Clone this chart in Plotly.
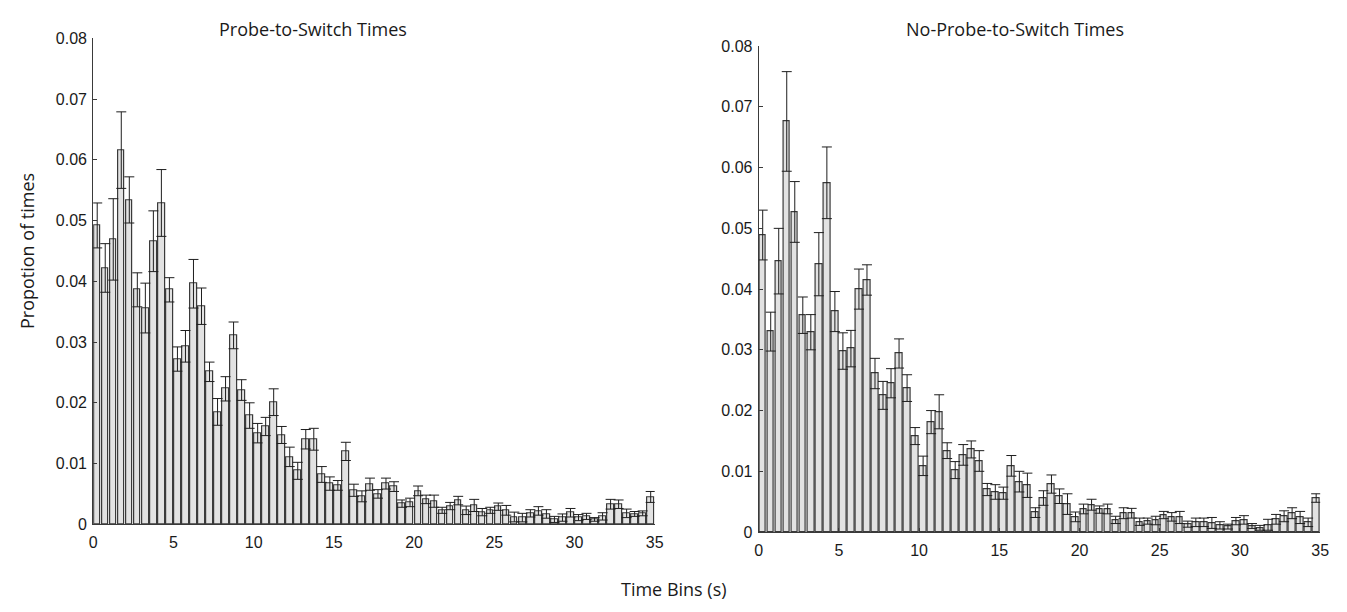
import plotly.graph_objects as go

# Bin centres (s), 0.5 s bins from 0 to 35
bin_centres = [0.25 + 0.5 * i for i in range(70)]

# Probe-to-Switch Times: proportion per bin and error
probe_vals = [
    0.0492, 0.0422, 0.0469, 0.0616, 0.0534, 0.0386, 0.0356, 0.0466, 0.0529, 0.0386,
    0.0272, 0.0293, 0.0396, 0.0359, 0.0251, 0.0185, 0.0223, 0.0311, 0.0221, 0.0179,
    0.0150, 0.0161, 0.0201, 0.0147, 0.0111, 0.0088, 0.0140, 0.0140, 0.0082, 0.0067,
    0.0064, 0.0120, 0.0056, 0.0046, 0.0066, 0.0050, 0.0067, 0.0062, 0.0034, 0.0036,
    0.0055, 0.0041, 0.0038, 0.0023, 0.0030, 0.0039, 0.0023, 0.0031, 0.0020, 0.0023,
    0.0029, 0.0023, 0.0012, 0.0011, 0.0018, 0.0022, 0.0017, 0.0008, 0.0011, 0.0019,
    0.0011, 0.0013, 0.0008, 0.0013, 0.0033, 0.0033, 0.0018, 0.0017, 0.0018, 0.0045,
]
probe_err = [
    0.0037, 0.0040, 0.0067, 0.0063, 0.0038, 0.0028, 0.0041, 0.0050, 0.0055, 0.0020,
    0.0020, 0.0026, 0.0040, 0.0030, 0.0016, 0.0022, 0.0020, 0.0022, 0.0017, 0.0021,
    0.0016, 0.0015, 0.0022, 0.0014, 0.0016, 0.0014, 0.0016, 0.0018, 0.0013, 0.0011,
    0.0008, 0.0015, 0.0010, 0.0009, 0.0010, 0.0007, 0.0009, 0.0008, 0.0006, 0.0007,
    0.0008, 0.0007, 0.0010, 0.0005, 0.0006, 0.0007, 0.0007, 0.0010, 0.0006, 0.0005,
    0.0006, 0.0008, 0.0008, 0.0007, 0.0006, 0.0007, 0.0007, 0.0005, 0.0006, 0.0007,
    0.0005, 0.0005, 0.0003, 0.0006, 0.0008, 0.0007, 0.0007, 0.0004, 0.0004, 0.0009,
]

# No-Probe-to-Switch Times
noprobe_vals = [
    0.0489, 0.0330, 0.0446, 0.0676, 0.0527, 0.0357, 0.0329, 0.0441, 0.0575, 0.0363,
    0.0298, 0.0302, 0.0400, 0.0415, 0.0261, 0.0225, 0.0245, 0.0294, 0.0237, 0.0158,
    0.0109, 0.0181, 0.0198, 0.0134, 0.0102, 0.0127, 0.0136, 0.0117, 0.0070, 0.0066,
    0.0064, 0.0109, 0.0083, 0.0077, 0.0032, 0.0056, 0.0079, 0.0059, 0.0046, 0.0025,
    0.0038, 0.0045, 0.0037, 0.0038, 0.0020, 0.0031, 0.0031, 0.0017, 0.0018, 0.0019,
    0.0028, 0.0025, 0.0024, 0.0013, 0.0016, 0.0016, 0.0015, 0.0011, 0.0009, 0.0018,
    0.0020, 0.0010, 0.0007, 0.0012, 0.0021, 0.0026, 0.0031, 0.0024, 0.0016, 0.0056,
]
noprobe_err = [
    0.0041, 0.0032, 0.0054, 0.0082, 0.0050, 0.0030, 0.0029, 0.0052, 0.0059, 0.0033,
    0.0030, 0.0030, 0.0033, 0.0025, 0.0025, 0.0023, 0.0024, 0.0024, 0.0022, 0.0014,
    0.0016, 0.0019, 0.0028, 0.0013, 0.0014, 0.0017, 0.0014, 0.0017, 0.0010, 0.0012,
    0.0010, 0.0017, 0.0017, 0.0020, 0.0008, 0.0012, 0.0015, 0.0012, 0.0017, 0.0008,
    0.0008, 0.0009, 0.0006, 0.0008, 0.0006, 0.0009, 0.0008, 0.0006, 0.0005, 0.0007,
    0.0006, 0.0007, 0.0010, 0.0005, 0.0007, 0.0007, 0.0009, 0.0006, 0.0004, 0.0006,
    0.0007, 0.0004, 0.0004, 0.0009, 0.0008, 0.0009, 0.0009, 0.0010, 0.0007, 0.0007,
]

x_ticks = [0, 5, 10, 15, 20, 25, 30, 35]
y_ticks = [0, 0.01, 0.02, 0.03, 0.04, 0.05, 0.06, 0.07, 0.08]
y_ticktext = ["0", "0.01", "0.02", "0.03", "0.04", "0.05", "0.06", "0.07", "0.08"]

titles = ["Probe-to-Switch Times", "No-Probe-to-Switch Times"]
y_title = "Propotion of times"
x_title = "Time Bins (s)"

# page body has a default 8px margin; work in window pixels and shift
OFF = 8
W, H = 1347 - OFF, 612 - OFF


def px_x(v):
    return (v - OFF) / W


def px_y(v):
    return 1 - (v - OFF) / H


BAR_FILL = "#e2e2e2"
BAR_LINE = "#3a3a3a"
AX = "#3a3a3a"
TICK_FONT = dict(family="Liberation Sans, Arial, sans-serif", size=16, color="#1a1a1a")
TITLE_FONT = dict(family="Open Sans, Lato, sans-serif", size=18, color="#1a1a1a")


def bar_trace(vals, errs, xa, ya):
    return go.Bar(
        x=bin_centres, y=vals, width=0.42,
        marker=dict(color=BAR_FILL, line=dict(color=BAR_LINE, width=1.2)),
        error_y=dict(type="data", array=errs, visible=True, color="#1e1e1e",
                     thickness=1, width=5),
        xaxis=xa, yaxis=ya, showlegend=False, hoverinfo="x+y",
    )


fig = go.Figure()
fig.add_trace(bar_trace(probe_vals, probe_err, "x", "y"))
fig.add_trace(bar_trace(noprobe_vals, noprobe_err, "x2", "y2"))


def xaxis_cfg(domain, anchor):
    return dict(domain=domain, anchor=anchor, range=[0, 35], tickvals=x_ticks,
                ticks="inside", ticklen=4, tickcolor=AX, showline=True, linecolor=AX,
                linewidth=1, showgrid=False, zeroline=False, tickfont=TICK_FONT,
                ticklabelstandoff=4)


def yaxis_cfg(domain, anchor):
    return dict(domain=domain, anchor=anchor, range=[0, 0.08], tickvals=y_ticks,
                ticktext=y_ticktext, ticks="inside", ticklen=4, tickcolor=AX,
                showline=True, linecolor=AX, linewidth=1, showgrid=False,
                zeroline=False, tickfont=TICK_FONT, ticklabelstandoff=2)


fig.update_layout(
    width=W, height=H,
    margin=dict(l=0, r=0, t=0, b=0),
    paper_bgcolor="white", plot_bgcolor="white",
    bargap=0,
    xaxis=xaxis_cfg([px_x(90), px_x(657)], "y"),
    yaxis=yaxis_cfg([px_y(531), px_y(31)], "x"),
    xaxis2=xaxis_cfg([px_x(762), px_x(1329)], "y2"),
    yaxis2=yaxis_cfg([px_y(539), px_y(39)], "x2"),
    annotations=[
        dict(text=titles[0], x=px_x(312), y=px_y(21), xref="paper", yref="paper",
             showarrow=False, font=TITLE_FONT, xanchor="center", yanchor="middle"),
        dict(text=titles[1], x=px_x(1021), y=px_y(21), xref="paper", yref="paper",
             showarrow=False, font=TITLE_FONT, xanchor="center", yanchor="middle"),
        dict(text=y_title, x=px_x(23), y=px_y(250), xref="paper", yref="paper",
             showarrow=False, font=TITLE_FONT, textangle=-90,
             xanchor="center", yanchor="middle"),
        dict(text=x_title, x=px_x(676), y=px_y(598), xref="paper", yref="paper",
             showarrow=False, font=TITLE_FONT, xanchor="center", yanchor="middle"),
    ],
)

fig.write_html("out.html")
